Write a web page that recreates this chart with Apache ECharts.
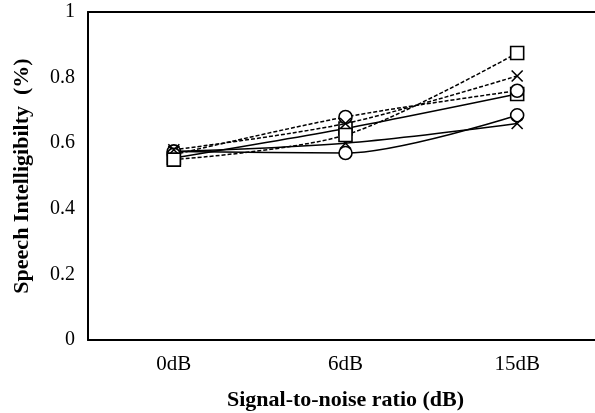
<!DOCTYPE html>
<html><head><meta charset="utf-8">
<script src="https://cdn.jsdelivr.net/npm/echarts@6/dist/echarts.min.js"></script>
<style>html,body{margin:0;padding:0;background:#fff}#c{width:595px;height:413px}</style>
</head><body><div id="c"></div>
<script>
const categories = ['0dB', '6dB', '15dB'];
const yTicks = [0, 0.2, 0.4, 0.6, 0.8, 1];
const solidCircle = [0.575, 0.57, 0.685];
const solidCross = [0.575, 0.60, 0.66];
const solidSquare = [0.555, 0.645, 0.75];
const dashedCircle = [0.565, 0.68, 0.76];
const dashedCross = [0.58, 0.66, 0.805];
const dashedSquare = [0.55, 0.625, 0.875];

const CROSS = 'path://M0,0L10,10M10,0L0,10';
function mk(name, data, symbol, dashed) {
  return {
    name, type: 'line', data, symbol, symbolSize: symbol === CROSS ? 11 : 13,
    smooth: 0.3,
    lineStyle: { color: '#000', width: 1.5, type: dashed ? [4, 2] : 'solid' },
    itemStyle: { color: '#fff', borderColor: '#000', borderWidth: 1.6 },
    z: dashed ? 3 : 2
  };
}
const chart = echarts.init(document.getElementById('c'));
chart.setOption({
  animation: false,
  backgroundColor: '#fff',
  grid: { left: 88, top: 12, height: 328, width: 515, containLabel: false, outerBoundsMode: 'none' },
  xAxis: [{
    type: 'category', data: categories, boundaryGap: true,
    name: 'Signal-to-noise ratio (dB)', nameLocation: 'middle', nameGap: 49,
    nameTextStyle: { fontFamily: 'Liberation Serif', fontWeight: 'bold', fontSize: 22, color: '#000' },
    axisLine: { lineStyle: { color: '#000', width: 2 } },
    axisTick: { inside: true, length: 5, lineStyle: { color: '#000', width: 1 } },
    axisLabel: { fontFamily: 'Liberation Serif', fontSize: 21, color: '#000', margin: 14 }
  }, {
    type: 'category', data: categories, position: 'top',
    axisLine: { show: true, lineStyle: { color: '#000', width: 2 } },
    axisTick: { show: false }, axisLabel: { show: false }
  }],
  yAxis: {
    type: 'value', min: yTicks[0], max: yTicks[yTicks.length - 1], interval: 0.2,
    name: 'Speech Intelligibilty  (%)', nameLocation: 'middle', nameGap: 55, nameRotate: 90,
    nameTextStyle: { fontFamily: 'Liberation Serif', fontWeight: 'bold', fontSize: 22, color: '#000' },
    axisLine: { show: true, lineStyle: { color: '#000', width: 2 } },
    axisTick: { show: false },
    splitLine: { show: false },
    axisLabel: { fontFamily: 'Liberation Serif', fontSize: 20, color: '#000', margin: 13 }
  },
  series: [
    mk('solidCircle', solidCircle, 'circle', false),
    mk('solidCross', solidCross, CROSS, false),
    mk('solidSquare', solidSquare, 'rect', false),
    mk('dashedCircle', dashedCircle, 'circle', true),
    mk('dashedCross', dashedCross, CROSS, true),
    mk('dashedSquare', dashedSquare, 'rect', true)
  ]
});
</script></body></html>
